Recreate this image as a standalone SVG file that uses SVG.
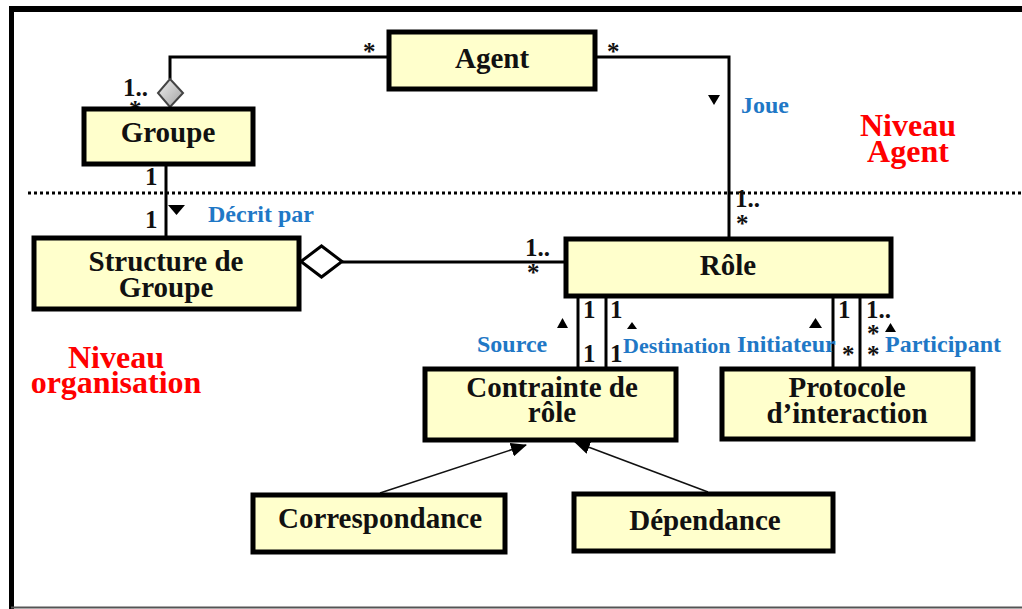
<svg xmlns="http://www.w3.org/2000/svg" width="1022" height="609" viewBox="0 0 1022 609">
<style>
.box{fill:#FFFFCC;stroke:#000;stroke-width:5}
.nt{font-family:"Liberation Serif","Times New Roman",serif;font-weight:bold;font-size:29px;fill:#111;text-anchor:middle}
.m{font-family:"Liberation Serif","Times New Roman",serif;font-weight:bold;font-size:25px;fill:#111}
.lbl{font-family:"Liberation Serif","Times New Roman",serif;font-weight:bold;font-size:24px;fill:#1f78c6}
.lvl{font-family:"Liberation Serif","Times New Roman",serif;font-weight:bold;font-size:32px;fill:#ff0000;text-anchor:middle}
.ln{fill:none;stroke:#000;stroke-width:3}
.gen{fill:none;stroke:#111;stroke-width:1.6}
.tri{fill:#000}
</style>
<defs>
<linearGradient id="gd" x1="0" y1="0" x2="1" y2="1">
<stop offset="0" stop-color="#f0f0f0"/>
<stop offset="1" stop-color="#a0a0a0"/>
</linearGradient>
<marker id="ah" markerWidth="16" markerHeight="14" refX="15" refY="7" orient="auto" markerUnits="userSpaceOnUse">
<path d="M0,0 L16,7 L0,14 Z" fill="#000"/>
</marker>
</defs>
<rect width="1022" height="609" fill="#fff"/>
<!-- frame -->
<line x1="11.5" y1="6" x2="11.5" y2="609" stroke="#000" stroke-width="5"/>
<line x1="9" y1="9" x2="1022" y2="9" stroke="#000" stroke-width="6"/>
<line x1="11" y1="607.5" x2="1022" y2="607.5" stroke="#555" stroke-width="2"/>
<!-- level separator -->
<line x1="28" y1="193" x2="1022" y2="193" stroke="#000" stroke-width="3" stroke-dasharray="3 3"/>
<g id="connectors">
<polyline class="ln" points="389,57 170,57 170,79"/>
<polygon points="170,79 183,93 170,107 158,93" fill="url(#gd)" stroke="#444" stroke-width="2"/>
<polyline class="ln" points="595,57 729,57 729,237"/>
<line class="ln" x1="166" y1="165" x2="166" y2="236"/>
<line class="ln" x1="342" y1="262" x2="564" y2="262"/>
<polygon points="301,261.5 321.5,246 342,261.5 321.5,277" fill="#fff" stroke="#000" stroke-width="3"/>
<line class="ln" x1="578" y1="297" x2="578" y2="367"/>
<line class="ln" x1="606" y1="297" x2="606" y2="367"/>
<line class="ln" x1="833" y1="297" x2="833" y2="367"/>
<line class="ln" x1="860" y1="297" x2="860" y2="367"/>
<line class="gen" x1="380" y1="493" x2="526" y2="445" marker-end="url(#ah)"/>
<line class="gen" x1="708" y1="492" x2="575" y2="442" marker-end="url(#ah)"/>
<!-- direction triangles -->
<polygon class="tri" points="708,95 720,95 714,105"/>
<polygon class="tri" points="168,205 185,205 176.5,215"/>
<polygon class="tri" points="557,328 568,328 562.5,318"/>
<polygon class="tri" points="627,329 637,329 632,322"/>
<polygon class="tri" points="809,328 822,328 815.5,318"/>
<polygon class="tri" points="885,332 896,332 890.5,323"/>
<!-- multiplicities -->
<text class="m" x="363" y="60">*</text>
<text class="m" x="607" y="60">*</text>
<text class="m" x="123" y="96">1..</text>
<text class="m" x="129" y="118">*</text>
<text class="m" x="145" y="185">1</text>
<text class="m" x="145" y="228">1</text>
<text class="m" x="735" y="207">1..</text>
<text class="m" x="736" y="232">*</text>
<text class="m" x="525" y="256">1..</text>
<text class="m" x="527" y="281">*</text>
<text class="m" x="583" y="318">1</text>
<text class="m" x="583" y="362">1</text>
<text class="m" x="610" y="318">1</text>
<text class="m" x="610" y="362">1</text>
<text class="m" x="838" y="318">1</text>
<text class="m" x="842" y="363">*</text>
<text class="m" x="866" y="318">1..</text>
<text class="m" x="867" y="342">*</text>
<text class="m" x="867" y="363">*</text>
<!-- role labels -->
<text class="lbl" x="741" y="113">Joue</text>
<text class="lbl" x="208" y="222">Décrit par</text>
<text class="lbl" x="477" y="352">Source</text>
<text class="lbl" x="623" y="353" style="font-size:22px">Destination</text>
<text class="lbl" x="737" y="352">Initiateur</text>
<text class="lbl" x="885" y="352">Participant</text>
</g>
<g id="agent">
<rect class="box" x="389" y="32" width="206" height="57"/>
<text class="nt" x="492" y="68">Agent</text>
</g>
<g id="groupe">
<rect class="box" x="84" y="109" width="169" height="55"/>
<text class="nt" x="168" y="142">Groupe</text>
</g>
<g id="structure-de-groupe">
<rect class="box" x="34" y="238" width="265" height="71"/>
<text class="nt" x="166" y="271">Structure de</text>
<text class="nt" x="166" y="297">Groupe</text>
</g>
<g id="role">
<rect class="box" x="566" y="239" width="325" height="57"/>
<text class="nt" x="728" y="275">Rôle</text>
</g>
<g id="contrainte-de-role">
<rect class="box" x="425" y="369" width="251" height="71"/>
<text class="nt" x="552" y="397">Contrainte de</text>
<text class="nt" x="552" y="422">rôle</text>
</g>
<g id="protocole-d-interaction">
<rect class="box" x="722" y="369" width="251" height="70"/>
<text class="nt" x="847" y="397">Protocole</text>
<text class="nt" x="847" y="423">d’interaction</text>
</g>
<g id="correspondance">
<rect class="box" x="253" y="495" width="252" height="57"/>
<text class="nt" x="380" y="528">Correspondance</text>
</g>
<g id="dependance">
<rect class="box" x="574" y="494" width="259" height="57"/>
<text class="nt" x="705" y="530">Dépendance</text>
</g>
<g id="levels">
<text class="lvl" x="908" y="136">Niveau</text>
<text class="lvl" x="908" y="162">Agent</text>
<text class="lvl" x="116" y="368">Niveau</text>
<text class="lvl" x="116" y="393">organisation</text>
</g>
</svg>
